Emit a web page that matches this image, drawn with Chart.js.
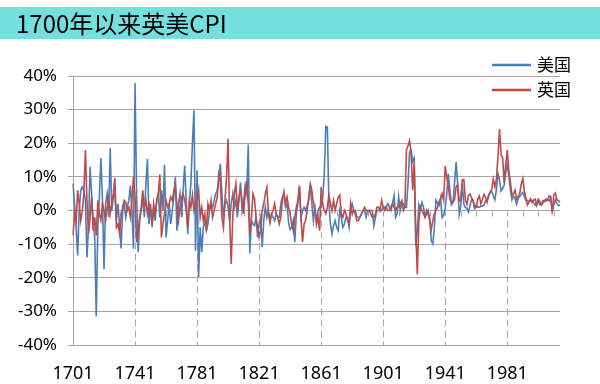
<!DOCTYPE html>
<html>
<head>
<meta charset="utf-8">
<script src="https://cdn.jsdelivr.net/npm/chart.js@4.4.0/dist/chart.umd.min.js"></script>
<style>
body{margin:0;background:#fff;}
#wrap{position:relative;width:600px;height:384px;}
#chart{position:absolute;left:0;top:0;}
#title{position:absolute;left:0;top:7px;width:600px;height:32px;background:#74dfdf;
  font-family:"Noto Sans CJK SC";font-size:24px;line-height:32px;padding-left:16px;box-sizing:border-box;color:#000;}
</style>
</head>
<body>
<div id="wrap">
  <canvas id="chart" width="600" height="384"></canvas>
  <div id="title">1700年以来英美CPI</div>
</div>
<script>
// years 1701..2015
let firstYear = 1701, lastYear = 2015;
let years = [];
for(let y = firstYear; y <= lastYear; y++) years.push(String(y));

let tickYears = ['1701','1741','1781','1821','1861','1901','1941','1981'];

// 美国 CPI, % y/y
let usCPI = [
  8, 2, -5, -13.4, 0, 6, 7, 6, 3, -14,
  -5, 13, 5, -3, -8, -31.5, -5, 4, 15.6, 3,
  -17.5, 2, 5, -2, 18.5, 0, 4, 5, -3, 2,
  -4, -11.3, 0, 2, -2, 1, 3, 7.4, 0, -11.4,
  37.9, 5, -12.4, -3, 0, 4, -2, 8, 15.4, -4,
  2, -5, 1, -3, 3, 5, -2, 6, 0, 13.6,
  -8, -3, 2, -4, 0, 4, 10, -6, 2, 5,
  -2, 6, 13.4, 3, -7, 2, 8, 20, 29.8, -12,
  12, -19.8, -5, -12.4, -5, -3, -6, -4, 0, 2,
  1, 3, 5, 6, 9, 13.9, 5, -2, 2, 3,
  1, -3, 2, 5, 1, 3, -2, 3, 8.4, 0,
  3, 7.4, 5, 19.6, -12.7, -3, -4, -4.5, -2, -7.9,
  -4, -2, -10.9, -3, 1, -2, 0, -3, -1, -2,
  -3, -1, -2, -2, 2, 4, 5, 1, 2, -3.6,
  -5.6, -5, -3, -9.4, -1, 2, 7, -2, 0, 1,
  0, 1.5, 3, 7.5, 2, -3, 1, -3.6, 0, 1,
  1, 3.7, 10.7, 25, 24.8, 2, -4, -7, -4.5, -3,
  -5, -6, 0, -2, -5, -4, -2, -2, -5, 0,
  2, 0, 0, -2, -2, -2, -1, 0, 0, -2,
  0, 0, 0, 0, -4.5, -2, 0, 0, 0, 0,
  1, 1, 1, 2, 1, 0, 2, 4.4, -2, -1,
  4, 0, 2, 2, 1, 1, 7.9, 17.4, 18, 14.6,
  15.6, -10.5, -6.1, 1.8, 0.4, 2.4, 0.9, -1.9, -1.2, 0,
  -2.3, -9, -9.9, -5.1, 3.1, 2.2, 1.5, 3.6, -2.1, -1.4,
  0.7, 5, 10.9, 6.1, 1.7, 2.3, 8.3, 14.4, 8.1, -1.2,
  1.3, 7.9, 1.9, 0.8, 0.7, -0.4, 1.5, 3.3, 2.8, 0.7,
  1.7, 1.0, 1.0, 1.3, 1.3, 1.6, 2.9, 3.1, 4.2, 5.5,
  5.7, 4.4, 3.2, 6.2, 11.0, 9.1, 5.8, 6.5, 7.6, 11.3,
  13.5, 10.3, 6.2, 3.2, 4.3, 3.6, 1.9, 3.6, 4.1, 4.8,
  5.4, 4.2, 3.0, 3.0, 2.6, 2.8, 3.0, 2.3, 1.6, 2.2,
  3.4, 2.8, 1.6, 2.3, 2.7, 3.4, 3.2, 2.8, 3.8, -0.4,
  1.6, 3.2, 2.1, 1.5, 1.6
];

// 英国 CPI, % y/y
let ukCPI = [
  -7.4, -1, -3.5, 6, 2, -3, 0, 5, 18, 3,
  -7, -2, 4, -6, -2, -7.4, 3, -1, -3, 2,
  0, -3, 1, 4, -1, 2, 5, 9.7, -5, -4,
  -6.8, -2, 1, 3, 2.5, 0, 1, -2, 3, 10,
  4, -9.4, -6, -2, 1, 6, 1, 3, -1, 2,
  0, -4, 2, -1, 3, 5, 10.7, -8, -4, -1,
  3, 1, 2, 4, 3, 6, 7.4, 2, -3, 1,
  4, 5, 3, 0, -5, 3, 1, 4.6, 0, 2,
  3, 6, -2, 1, -3, -1, -6, 2, 0, 3,
  -2, 0, 2, 4, 10.9, 9, -2, -5, 3, 10,
  21.3, -3, -15.9, -2, 5, 8, 0, 4, 6, 3,
  -1, 5, 8.9, 2, -7, -3, 5, 3.6, -2, -5,
  -8, -6, 0, 2, 5, 6.9, -1, -3.6, -1, 0,
  2, -1, -2, -4, -2, 3, 5.6, 2, 4, 1,
  -1, -4, -6, -2, 1, 3, 7.4, -2, -9.4, -4,
  -3, 0, 4, 8, 6, 2, 0, -4, -2, -6,
  7, 2, 0, -1, 1, 4.6, 2, 0, 3, 0,
  2, 4, 4.6, -1, -2, 0, -1, -3, -4, 2,
  -1, 0, -1, -3, -3, -2, -1, 0, 1, 0,
  0, 0, -1, -2, -2, -1, 1, 1, 0, 3,
  1, 0, 1, 0, 0, 1, 2, 1, 0, 1,
  1, 2, 3, 0, 1, 18, 19.3, 20.8, 17, 6,
  14, -6, -19, -3, 1, 0, -1, -2, 0, -1,
  -3, -5.6, -3, -1, 0, 1, 2.5, 3.5, 5, 3,
  13.2, 10, 7, 3.4, 2.5, 2.6, 3.1, 7, 7.7, 2.8,
  3.1, 9.1, 9.2, 3.1, 1.8, 4.5, 4.9, 3.7, 3.0, 0.6,
  1.0, 3.4, 4.3, 2.0, 3.3, 4.8, 3.9, 2.5, 4.7, 5.4,
  6.4, 9.4, 7.1, 9.2, 16.0, 24.2, 16.5, 15.8, 8.3, 13.4,
  18.0, 11.9, 8.6, 4.6, 5.0, 6.1, 3.4, 4.2, 4.9, 7.8,
  9.5, 5.9, 3.7, 1.6, 2.4, 3.5, 2.4, 3.1, 3.4, 1.5,
  3.0, 1.8, 1.7, 2.9, 3.0, 2.8, 3.2, 4.3, 4.0, -0.5,
  4.6, 5.2, 3.2, 3.0, 2.4
];

let seriesNames = ['美国', '英国'];
let seriesColors = ['#4a7ebb', '#be4b48'];
let gridColor = '#a6a6a6';

// dashed drop lines below zero + small ticks on the zero line
let dropLines = {
  id: 'dropLines',
  beforeDatasetsDraw(chart){
    let ctx = chart.ctx, xs = chart.scales.x, ys = chart.scales.y;
    let y0 = Math.round(ys.getPixelForValue(0)) + 0.5;
    let bottom = chart.chartArea.bottom;
    ctx.save();
    ctx.strokeStyle = gridColor;
    ctx.lineWidth = 1;
    years.forEach(function(yr, i){
      if(i % 10 !== 0 || i === 0) return;
      let px = Math.round(xs.getPixelForValue(i)) + 0.5;
      ctx.setLineDash([]);
      ctx.beginPath();
      ctx.moveTo(px, y0);
      ctx.lineTo(px, y0 + 5);
      ctx.stroke();
      if(tickYears.includes(yr)){
        ctx.setLineDash([7, 4]);
        ctx.beginPath();
        ctx.moveTo(px, y0 + 9);
        ctx.lineTo(px, bottom);
        ctx.stroke();
      }
    });
    ctx.restore();
  }
};

// legend in top right corner
let cornerLegend = {
  id: 'cornerLegend',
  afterDraw(chart){
    let ctx = chart.ctx;
    ctx.save();
    ctx.font = '17px "Noto Sans CJK SC"';
    ctx.textBaseline = 'middle';
    ctx.fillStyle = '#000';
    seriesNames.forEach(function(name, i){
      let ly = 65 + i * 25;
      ctx.strokeStyle = seriesColors[i];
      ctx.lineWidth = 2.5;
      ctx.beginPath();
      ctx.moveTo(492, ly);
      ctx.lineTo(531, ly);
      ctx.stroke();
      ctx.fillText(name, 537, ly);
    });
    ctx.restore();
  }
};

new Chart(document.getElementById('chart'), {
  type: 'line',
  data: {
    labels: years,
    datasets: [
      { label: seriesNames[0], data: usCPI, borderColor: seriesColors[0], borderWidth: 1.6, pointRadius: 0, tension: 0, order: 1 },
      { label: seriesNames[1], data: ukCPI, borderColor: seriesColors[1], borderWidth: 1.6, pointRadius: 0, tension: 0, order: 0 }
    ]
  },
  options: {
    responsive: false,
    animation: false,
    layout: { padding: { top: 76, right: 40, bottom: 0, left: 0 } },
    plugins: { legend: { display: false }, tooltip: { enabled: false } },
    scales: {
      x: {
        offset: false,
        grid: { display: false },
        border: { display: false },
        ticks: {
          autoSkip: false, maxRotation: 0, minRotation: 0, padding: 10,
          color: '#000', font: { family: 'Noto Sans', size: 18 },
          callback: function(v){
            let l = this.getLabelForValue(v);
            return tickYears.includes(l) ? l : null;
          }
        },
        afterFit: function(s){ s.height = 39; }
      },
      y: {
        min: -40, max: 40,
        grid: { color: gridColor, tickLength: 5 },
        border: { color: gridColor },
        ticks: {
          stepSize: 10, padding: 11, color: '#000',
          font: { family: 'Noto Sans', size: 17 },
          callback: function(v){ return v + '%'; }
        },
        afterFit: function(s){ s.width = 73; }
      }
    }
  },
  plugins: [dropLines, cornerLegend]
});
</script>
</body>
</html>
